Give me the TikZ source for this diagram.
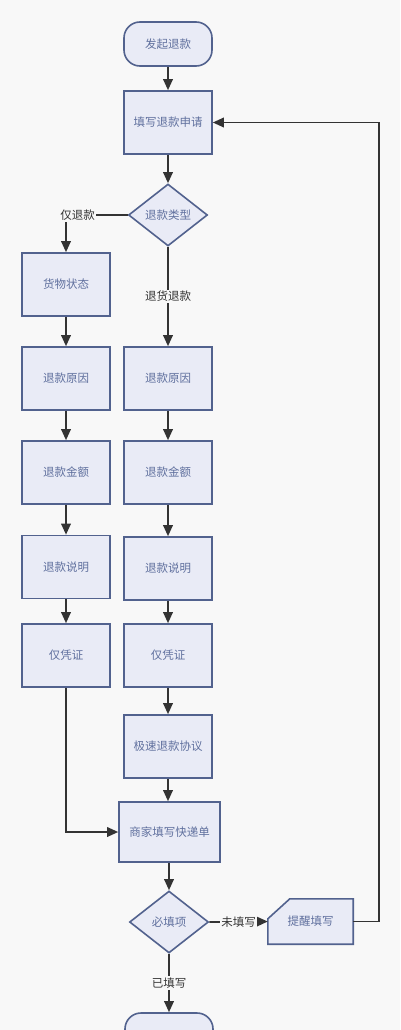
\documentclass[tikz,border=0pt]{standalone}
\usepackage{fontspec}
\setmainfont{Noto Sans CJK SC}
\usetikzlibrary{arrows.meta,shapes.geometric,calc}
\definecolor{bg}{RGB}{248,248,248}
\definecolor{nodefill}{RGB}{233,235,246}
\definecolor{nodedraw}{RGB}{82,98,142}
\definecolor{nodetext}{RGB}{96,112,158}
\definecolor{edgecol}{RGB}{51,51,51}
\begin{document}
\begin{tikzpicture}[x=1pt,y=-1pt,
  base/.style={draw=nodedraw,fill=nodefill,line width=1.6pt,text=nodetext,inner sep=0pt,font=\fontsize{11.5}{13}\selectfont},
  box/.style={base,minimum width=88pt,minimum height=63pt},
  stadium/.style={base,rounded corners=16pt,minimum width=88pt,minimum height=44pt},
  decision/.style={base,diamond,minimum width=79pt,minimum height=62pt},
  edge/.style={draw=edgecol,line width=1.8pt,-{Triangle[length=11pt,width=9.5pt]}},
  plain/.style={draw=edgecol,line width=1.8pt},
  lbl/.style={fill=bg,text=edgecol,inner sep=1.5pt,font=\fontsize{11.5}{13}\selectfont}
]
\useasboundingbox (0,0) rectangle (400,1030);
\clip (0,0) rectangle (400,1030);
\fill[bg] (0,0) rectangle (400,1030);

% nodes
\node[stadium] (start) at (168,44) {发起退款};
\node[box] (apply) at (168,122.5) {填写退款申请};
\node[decision] (type) at (168,215) {退款类型};

\node[box] (goods) at (66,284.5) {货物状态};
\node[box] (lreason) at (66,378.5) {退款原因};
\node[box] (lamount) at (66,472.5) {退款金额};
\node[box] (lnote) at (66,567) {退款说明};
\node[box] (lproof) at (66,655.5) {仅凭证};

\node[box] (rreason) at (168,378.5) {退款原因};
\node[box] (ramount) at (168,472.5) {退款金额};
\node[box] (rnote) at (168,568.5) {退款说明};
\node[box] (rproof) at (168,655.5) {仅凭证};
\node[box] (rfast) at (168,746.5) {极速退款协议};

\node[box,minimum width=101pt,minimum height=60pt] (ship) at (169.5,832) {商家填写快递单};
\node[decision] (req) at (169,922) {必填项};

\node[text=nodetext,inner sep=0pt,minimum width=85pt,minimum height=45pt,font=\fontsize{11.5}{13}\selectfont] (remind) at (310.5,921.5) {};
\draw[draw=nodedraw,fill=nodefill,line width=1.6pt]
  ($(remind.north west)+(0,20)$) -- ($(remind.north west)+(22,0)$) -- (remind.north east)
  -- (remind.south east) -- (remind.south west) -- cycle;
\node[text=nodetext,font=\fontsize{11.5}{13}\selectfont] at (remind.center) {提醒填写};

\node[stadium] (finish) at (169,1035) {};

% edges
\coordinate (c1) at (66,215);
\path[edge] (start) -- (apply);
\path[edge] (apply) -- (type);
\path[plain] (type.west) -- (c1);
\path[edge] (c1) -- (goods.north);
\node[lbl] at (77.5,215) {仅退款};

\path[edge] (type.south) -- (rreason.north) node[lbl,pos=0.5] {退货退款};

\path[edge] (goods) -- (lreason);
\path[edge] (lreason) -- (lamount);
\path[edge] (lamount) -- (lnote);
\path[edge] (lnote) -- (lproof);

\path[edge] (rreason) -- (ramount);
\path[edge] (ramount) -- (rnote);
\path[edge] (rnote) -- (rproof);
\path[edge] (rproof) -- (rfast);
\path[edge] (rfast.south) -- (rfast.south |- ship.north);

\path[edge] (lproof.south) |- (ship.west);
\path[edge] (ship.south -| req.north) -- (req.north);

\path[edge] (req.east) -- (remind.west) node[lbl,pos=0.5] {未填写};
\path[edge] (remind.east) -- ++(26,0) |- (apply.east);

\path[edge] (req.south) -- (finish.north) node[lbl,pos=0.5] {已填写};
\end{tikzpicture}
\end{document}
